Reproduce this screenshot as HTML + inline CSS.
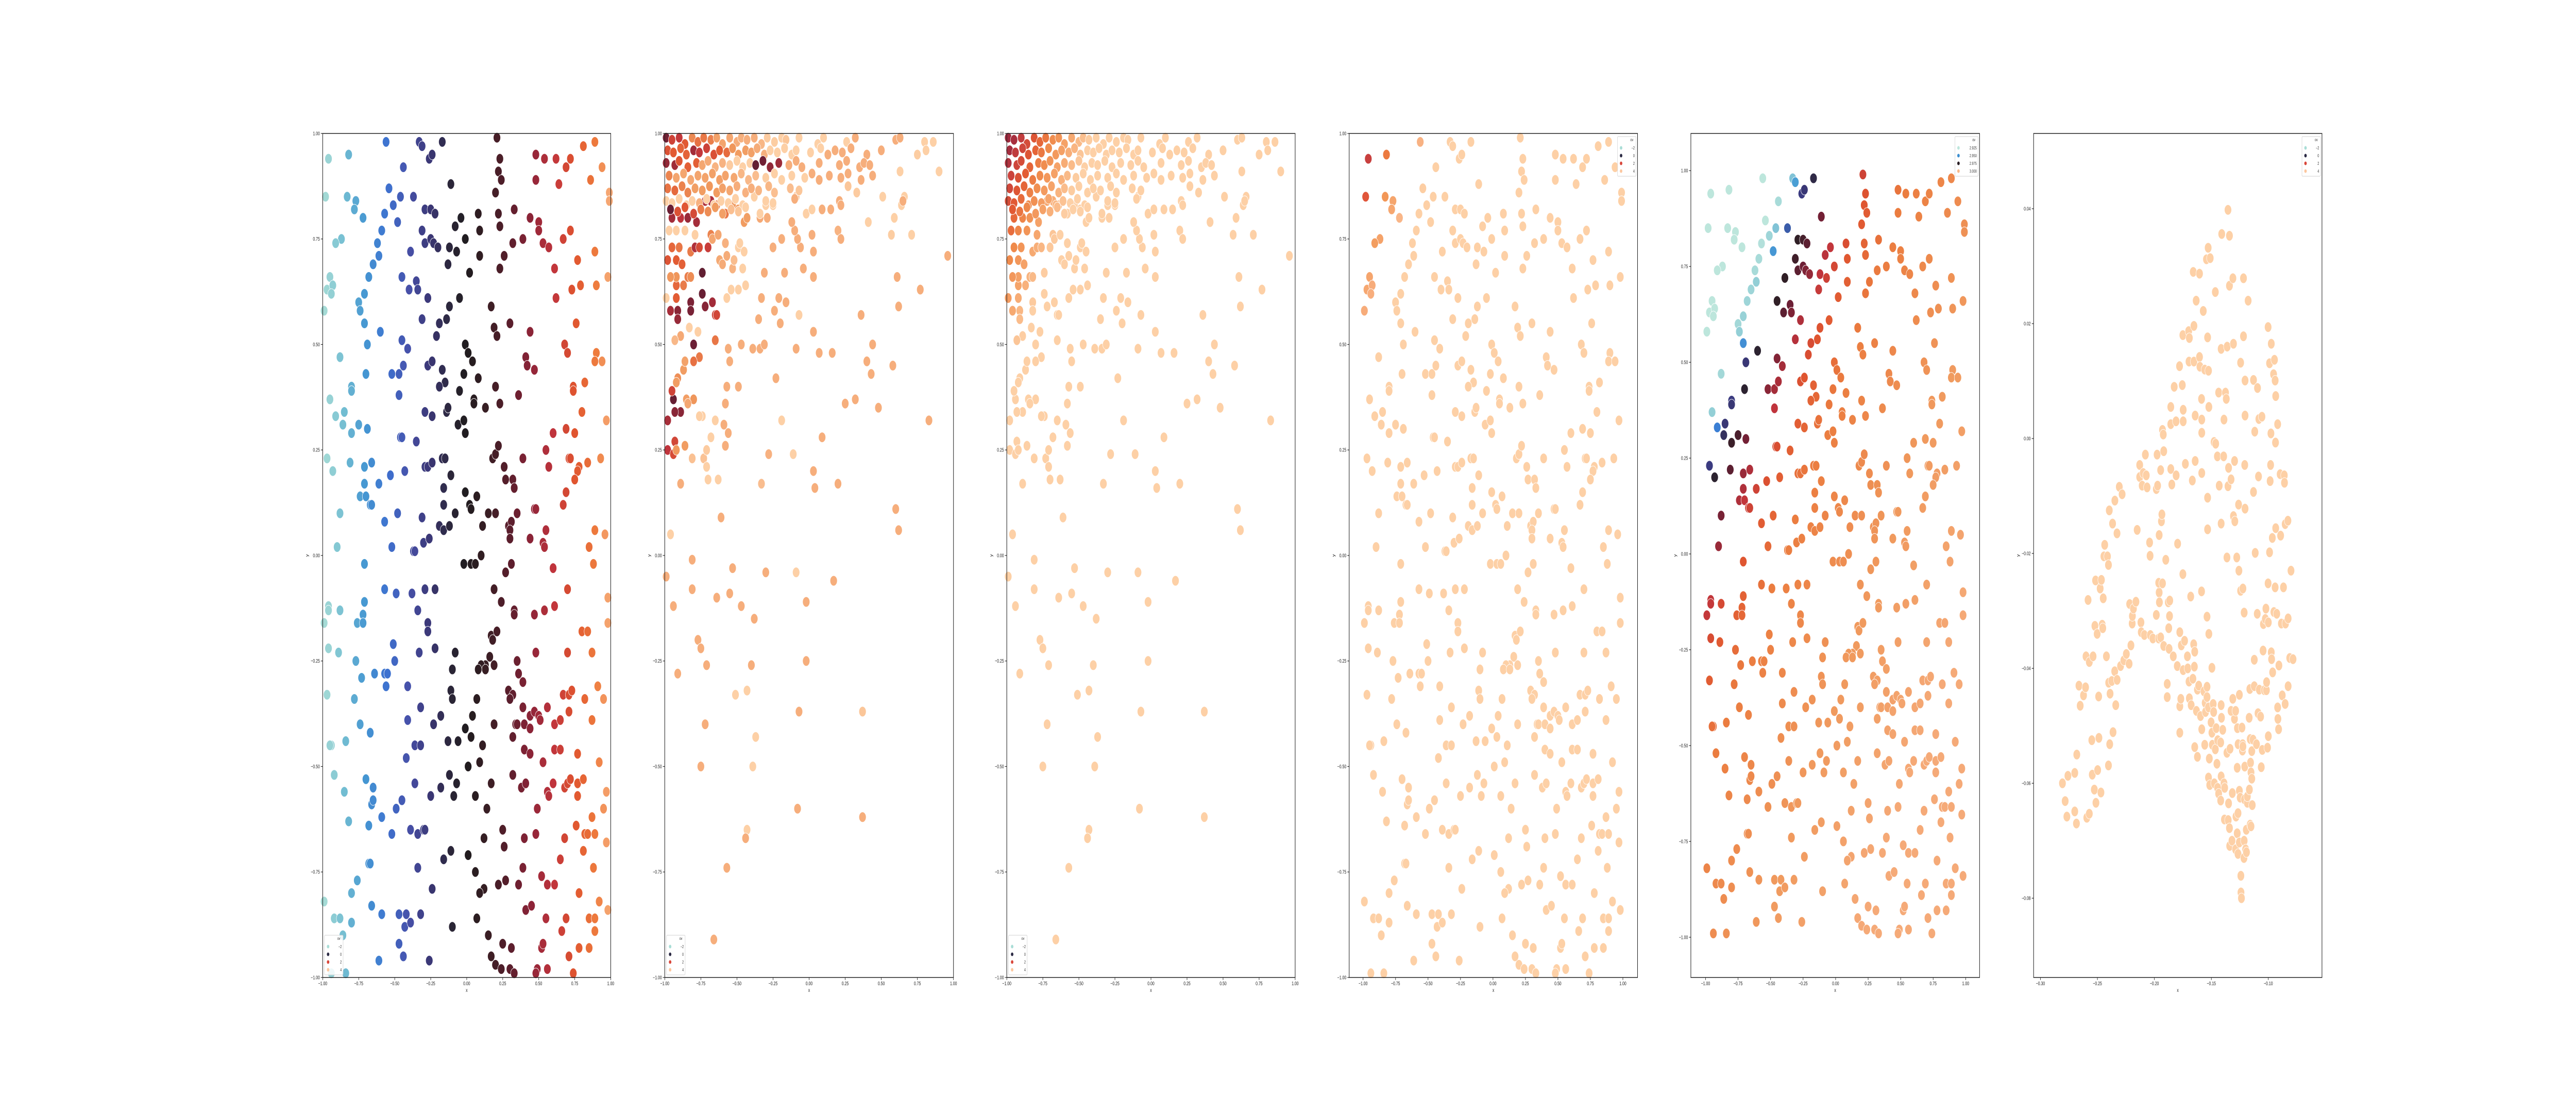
<!DOCTYPE html>
<html><head><meta charset="utf-8"><style>
html,body{margin:0;padding:0;background:#fff;width:100vw;height:100vh;overflow:hidden;}
svg{display:block;position:absolute;left:0;top:0;width:100vw;height:100vh;font-family:"Liberation Sans","DejaVu Sans",sans-serif;}
</style></head><body>
<svg id="chart" width="100%" height="100%" viewBox="0 0 7200 2160" preserveAspectRatio="none" xmlns="http://www.w3.org/2000/svg">
<rect x="0" y="0" width="7200" height="2160" fill="#ffffff"/>
</svg>
<script>
// ---------- DATA ----------
// shared uniform sample (panels 1,4,5)
const ptsX = [-.96,-.82,-.56,-.33,-.31,-.26,-.24,-.17,-.44,.21,.23,.22,.24,.48,.54,.62,.69,.72,.81,.89,.94,.48,.64,.86,.99,.99,-.98,-.83,-.77,-.78,-.54,-.37,-.46,-.51,-.57,-.11,-.29,-.25,-.22,.33,.2,.08,.22,.23,-.04,-.08,-.72,-.48,-.59,.44,.5,.5,.53,.57,.72,-.87,-.91,-.62,-.61,-.65,-.31,-.29,-.25,-.23,-.2,-.12,-.07,-.13,-.01,.09,.09,.32,.39,.26,.23,.67,.77,.89,.98,-.39,-.95,-.97,-.93,-.94,-.99,-.68,-.45,-.35,-.4,-.34,-.71,-.75,-.74,-.71,-.27,-.05,.02,.73,.79,.9,.61,.62,-.12,.17,.3,.76,-.14,-.31,-.19,.19,.21,.44,-.21,-.69,-.6,-.45,-.41,-.01,.01,.04,.41,.42,.47,.68,.7,.9,.89,.94,-.88,-.7,-.52,-.47,-.44,-.27,-.24,-.17,-.15,-.19,-.02,.08,-.8,-.8,-.95,-.47,-.05,.05,.05,.13,.2,.23,.36,.74,.74,.82,.8,-.91,-.85,-.86,-.8,-.75,-.69,-.29,-.24,-.14,-.13,-.06,-.02,-.01,.97,-.97,-.93,-.81,-.71,-.46,-.45,-.35,-.29,-.27,-.24,-.17,-.15,-.66,-.43,-.53,-.11,.18,.2,.22,.26,.27,.32,.33,.39,.55,.57,.6,.69,.75,.71,.72,.78,.77,.75,.84,.93,-.71,-.61,-.74,-.7,-.67,-.66,-.16,-.16,-.01,.02,.03,.07,-.88,-.48,-.57,-.31,-.08,-.19,-.16,-.12,.11,.15,.2,.29,.31,.3,.3,.35,.47,.48,.55,.44,.67,.69,.89,.96,-.9,-.52,-.37,-.36,-.3,-.26,-.26,-.71,-.57,-.49,-.38,-.29,-.22,-.02,.03,.06,.1,.27,.31,.53,.54,.6,.85,.88,.98,.98,-.96,-.96,-.99,-.88,-.71,-.72,-.76,-.72,-.34,-.27,-.27,.19,.24,.33,.33,.47,.54,.61,.7,-.96,-.89,-.77,-.73,-.64,-.57,-.55,-.56,-.51,-.5,-.33,-.22,-.08,-.1,.17,.18,.21,.16,.13,.1,.08,.13,.19,.35,.36,.39,.48,.7,.8,.84,.87,-.97,-.78,-.74,-.67,-.41,-.32,-.41,-.18,-.23,-.11,-.1,.07,.04,-.01,.03,.11,.19,.29,.32,.3,.34,.35,.4,.39,.44,.44,.47,.5,.51,.56,.61,.65,.32,.67,.71,.73,.71,.82,.91,.95,.87,-.94,-.95,-.84,-.92,-.36,-.32,-.42,-.13,-.06,.01,.09,.4,.44,.61,.65,.77,.92,.53,-.85,-.7,-.65,-.66,-.65,-.59,-.82,-.45,-.49,-.36,-.52,-.25,-.18,-.12,-.07,-.09,.06,.17,.14,.32,.38,.41,.49,.56,.57,.6,.68,.7,.72,.77,.81,.77,.97,.95,-.68,-.67,-.68,-.39,-.34,-.3,-.29,-.34,-.24,-.16,-.11,.12,.01,.06,.25,.26,.4,.48,.68,.65,.76,.82,.84,.89,.87,.81,.97,.88,-.76,-.8,-.99,-.8,-.92,-.88,-.86,-.66,-.59,-.47,-.42,-.43,-.39,-.47,-.61,-.44,-.32,-.26,-.1,.07,.12,.09,.15,.17,.2,.24,.22,.27,.36,.39,.25,.31,.3,.33,.41,.45,.52,.56,.61,.52,.53,.49,.48,.56,.55,.66,.69,.71,.78,.85,.85,.89,.89,.92,.98,.78,.74,-.94,-.84];
const ptsY = [.94,.95,.98,.98,.97,.94,.95,.98,.92,.99,.94,.91,.89,.95,.94,.94,.92,.94,.97,.98,.92,.89,.88,.89,.86,.84,.85,.85,.84,.82,.87,.85,.85,.83,.81,.88,.82,.82,.81,.82,.86,.81,.81,.78,.80,.78,.80,.79,.77,.80,.79,.77,.74,.73,.77,.75,.74,.74,.71,.69,.77,.74,.75,.74,.73,.73,.72,.69,.75,.77,.71,.74,.75,.71,.68,.75,.70,.72,.66,.72,.66,.63,.64,.62,.58,.66,.66,.65,.63,.63,.62,.60,.58,.55,.61,.61,.67,.63,.64,.64,.68,.61,.59,.59,.55,.55,.56,.56,.55,.54,.52,.53,.52,.50,.53,.51,.49,.50,.48,.46,.47,.45,.44,.50,.48,.48,.46,.46,.47,.43,.43,.43,.45,.45,.46,.44,.41,.40,.43,.42,.40,.39,.37,.38,.39,.37,.36,.35,.40,.36,.38,.40,.39,.41,.34,.33,.34,.31,.29,.31,.30,.34,.33,.34,.35,.31,.32,.29,.32,.23,.20,.22,.21,.28,.28,.27,.21,.21,.22,.23,.23,.22,.20,.19,.19,.23,.24,.26,.21,.18,.18,.16,.23,.25,.21,.29,.30,.29,.23,.23,.21,.20,.18,.22,.23,.17,.17,.14,.14,.12,.12,.16,.12,.15,.12,.11,.14,.10,.10,.08,.09,.10,.07,.06,.07,.07,.10,.10,.07,.08,.06,.04,.10,.11,.11,.06,.04,.12,.15,.06,.05,.02,.02,.01,.01,.03,.04,.04,-.02,-.08,-.09,-.09,-.08,-.08,-.02,-.02,-.02,0,-.04,-.02,.03,.02,-.03,.02,-.02,-.10,-.16,-.12,-.13,-.16,-.13,-.11,-.14,-.16,-.16,-.13,-.16,-.18,-.08,-.11,-.13,-.14,-.14,-.13,-.12,-.08,-.22,-.23,-.25,-.29,-.28,-.28,-.28,-.31,-.21,-.25,-.23,-.22,-.23,-.27,-.19,-.20,-.18,-.24,-.26,-.26,-.27,-.27,-.26,-.25,-.28,-.30,-.23,-.23,-.18,-.18,-.23,-.33,-.34,-.40,-.42,-.31,-.36,-.39,-.38,-.40,-.32,-.34,-.34,-.38,-.41,-.43,-.45,-.40,-.32,-.33,-.34,-.40,-.40,-.40,-.36,-.41,-.38,-.37,-.38,-.39,-.36,-.40,-.39,-.43,-.33,-.33,-.32,-.37,-.34,-.31,-.34,-.39,-.45,-.45,-.44,-.52,-.45,-.45,-.48,-.44,-.44,-.50,-.49,-.46,-.47,-.46,-.46,-.47,-.49,-.49,-.56,-.53,-.55,-.59,-.58,-.62,-.63,-.58,-.60,-.54,-.66,-.57,-.55,-.52,-.54,-.57,-.57,-.54,-.60,-.52,-.55,-.54,-.60,-.56,-.57,-.54,-.55,-.54,-.53,-.54,-.53,-.57,-.56,-.60,-.73,-.73,-.64,-.65,-.66,-.65,-.65,-.74,-.79,-.72,-.70,-.67,-.71,-.75,-.65,-.69,-.67,-.66,-.67,-.72,-.64,-.66,-.66,-.66,-.62,-.70,-.68,-.74,-.77,-.80,-.82,-.87,-.86,-.86,-.90,-.83,-.85,-.85,-.85,-.88,-.87,-.92,-.96,-.95,-.85,-.96,-.88,-.86,-.79,-.80,-.90,-.95,-.97,-.98,-.78,-.77,-.78,-.74,-.92,-.93,-.98,-.99,-.84,-.83,-.76,-.78,-.78,-.93,-.92,-.98,-.99,-.98,-.86,-.89,-.86,-.95,-.93,-.93,-.86,-.86,-.89,-.82,-.84,-.80,-.99,-.99,-.99];

// skewed sample (panels 2,3)
const skewX = [.96,.77,.83,.48,.44,.40,.43,.58,.61,.62,.36,.32,.25,.57,.71,.51,.66,.64,.59,.63,.90,.75,.80,.81,.86,.41,.60,.62,.09,.20,.03,.04,.16,.07,.03,-.09,.09,.15,.21,.20,.22,.02,.03,.03,-.04,-.06,-.08,-.10,-.12,-.09,-.02,.02,-.07,-.11,-.19,-.23,-.16,-.20,-.21,-.24,-.17,-.19,-.25,-.31,-.33,-.35,-.34,-.31,-.39,-.47,-.49,-.28,-.33,-.29,-.34,-.25,-.30,-.38,
-.96,-.99,-.94,-.81,-.81,-.91,-.77,-.75,-.71,-.72,-.75,-.61,-.53,-.55,-.64,-.47,-.38,-.30,-.40,-.43,-.51,-.37,-.39,-.43,-.44,-.57,-.66,-.09,-.02,-.02,-.07,-.08,.17,.37,.37,
-.98,-.98,-.93,-.94,-.92,-.89,-.86,-.81,-.73,-.71,-.71,-.70,-.68,-.65,-.63,-.59,-.58,-.56,-.58,-.57,-.55,-.56,-.65,-.76,-.80,-.80,-.85,-.89,-.93,-.94,-.95,-.91,-.92,-.87,-.86,-.84,-.89,-.93,-.77,-.74,-.76,-.83,-.80,-.82,-.82,-.91,-.91,-.96,-.92,-.92,-.87,-.84,-.82,-.92,-.96,-.99,-.74,-.74,-.72,-.67,-.65,-.64,
-.98,-.92,-.88,-.95,-.90,-.82,-.79,-.76,-.70,-.68,-.67,-.63,-.62,-.60,-.57,-.58,-.53,-.52,-.49,-.48,-.46,-.45,-.49,-.54,-.57,-.44,
-.97,-.92,-.86,-.79,-.95,-.89,-.84,-.78,-.72,-.68,-.64,-.58,-.53,-.49,-.45,-.43,
-.99,-.95,-.90,-.86,-.81,-.77,-.73,-.68,-.64,-.60,-.55,-.50,-.47,-.43,-.38,-.33,-.29,-.24,-.19,-.16,-.07,.06,.10,.26,.32,.60,.63,
-.98,-.94,-.89,-.85,-.80,-.76,-.71,-.66,-.62,-.57,-.53,-.49,-.44,-.40,-.36,-.31,-.27,-.22,-.17,-.12,-.09,.01,.08,.13,.18,.23,.29,.40,.50,
-.99,-.93,-.90,-.84,-.78,-.74,-.70,-.65,-.60,-.55,-.50,-.46,-.41,-.37,-.32,-.27,-.21,-.14,-.09,-.05,.07,.21,.26,.35,.38,.42,
-.97,-.92,-.87,-.82,-.77,-.72,-.67,-.62,-.58,-.52,-.47,-.42,-.37,-.30,-.24,-.19,-.12,-.03,.02,.07,.14,.22,.27,.36,.44,
-.98,-.93,-.88,-.84,-.79,-.74,-.69,-.64,-.60,-.55,-.50,-.44,-.40,-.35,-.28,-.24,-.13,-.07,.27,.33,
-.99,-.95,-.90,-.85,-.81,-.76,-.71,-.66,-.61,-.56,-.51,-.46,-.30,-.25,-.10,.22,.65,
-.96,-.91,-.86,-.80,-.75,-.70,-.65,-.60,-.54,-.49,-.44,-.34];
const skewY = [.71,.63,.32,.35,.50,.46,.43,.45,.66,.59,.57,.37,.36,.76,.76,.85,.85,.83,.80,.91,.91,.95,.98,.96,.98,.79,.11,.06,.28,.17,.20,.16,.48,.48,.53,.49,.82,.82,.84,.77,.75,.76,.72,.66,.68,.73,.75,.77,.79,.85,.81,.82,.57,.24,.32,.42,.60,.55,.61,.58,.67,.75,.73,.67,.61,.56,.49,.50,.49,.50,.40,.24,.17,.80,.80,.83,.83,.85,
.05,-.05,-.12,-.01,-.08,-.28,-.20,-.22,-.26,-.40,-.50,.09,-.03,-.09,-.10,-.12,-.15,-.04,-.26,-.32,-.33,-.43,-.50,-.65,-.67,-.74,-.91,-.04,-.11,-.25,-.37,-.60,-.06,-.37,-.62,
.32,.25,.27,.24,.25,.17,.26,.23,.23,.25,.21,.18,.28,.32,.18,.31,.26,.29,.36,.40,.46,.49,.51,.47,.46,.37,.37,.34,.34,.37,.39,.42,.41,.44,.46,.36,.52,.51,.53,.33,.33,.54,.50,.60,.58,.58,.56,.58,.61,.64,.64,.66,.66,.66,.66,.61,.67,.62,.59,.60,.57,.57,
.70,.70,.69,.73,.73,.72,.73,.73,.73,.76,.75,.76,.70,.69,.71,.74,.68,.70,.73,.74,.68,.72,.63,.63,.61,.64,
.77,.77,.77,.76,.80,.80,.80,.79,.84,.84,.83,.81,.83,.82,.79,.80,
.99,.985,.99,.975,.99,.98,.99,.985,.99,.975,.99,.98,.99,.985,.99,.975,.99,.98,.99,.985,.99,.975,.99,.98,.99,.985,.99,
.96,.955,.965,.95,.96,.955,.965,.95,.96,.955,.965,.95,.96,.955,.965,.95,.96,.955,.965,.95,.96,.955,.965,.95,.96,.955,.965,.95,.96,
.93,.925,.935,.92,.93,.925,.935,.92,.93,.925,.935,.92,.93,.925,.935,.92,.93,.925,.935,.92,.93,.925,.935,.92,.93,.925,
.90,.895,.905,.89,.90,.895,.905,.89,.90,.895,.905,.89,.90,.895,.905,.89,.90,.895,.905,.89,.90,.895,.905,.89,.90,
.87,.865,.875,.86,.87,.865,.875,.86,.87,.865,.875,.86,.87,.865,.875,.86,.87,.865,.875,.86,
.84,.835,.845,.83,.84,.835,.845,.83,.84,.835,.845,.83,.84,.835,.845,.83,.84,
.82,.815,.825,.81,.82,.815,.825,.81,.82,.815,.825,.81];

// panel 6 projected sample
const projX = [-.2807,-.2783,-.2768,-.2759,-.2699,-.2699,-.2684,-.2681,-.2662,-.2651,-.2622,-.2604,-.2600,-.2593,-.2571,-.2571,-.2582,-.2549,-.2545,-.2538,-.2527,-.2522,-.2516,-.2513,-.2502,-.2498,-.2489,-.2487,-.2476,-.2465,-.2469,-.2458,-.2453,-.2449,-.2443,-.2436,-.2421,-.2412,-.2403,-.2396,-.2401,-.2403,-.2392,-.2389,-.2374,-.2367,-.2363,-.2348,-.2347,-.2339,-.2327,-.2328,-.2297,-.2308,-.2283,-.2268,-.2246,-.2222,-.2206,-.2217,-.2195,-.2193,-.2184,-.2162,-.2151,-.2129,-.2118,-.2115,-.2129,-.2107,-.2098,-.2088,-.2079,-.2071,-.2064,-.2042,-.2038,-.2035,-.2013,-.1983,-.1976,-.1983,-.1972,-.1962,-.1958,-.1958,-.1962,-.1956,-.1945,-.1938,-.1934,-.1929,-.1945,-.1918,-.1918,-.1929,-.1922,-.1900,-.1887,-.1887,-.1878,-.1874,-.1871,-.1865,-.1867,-.1856,-.1856,-.1856,-.1847,-.1834,-.1826,-.1809,-.1810,-.1796,-.1779,-.1777,-.1777,-.1799,-.1777,-.1768,-.1763,-.1755,-.1750,-.1750,-.1747,-.1747,-.1747,-.1735,-.1728,-.1710,-.1707,-.1699,-.1696,-.1696,-.1693,-.1693,-.1681,-.1677,-.1667,-.1662,-.1659,-.1653,-.1653,-.1649,-.1646,-.1642,-.1642,-.1655,-.1646,-.1633,-.1631,-.1622,-.1622,-.1611,-.1604,-.1604,-.1600,-.1595,-.1586,-.1584,-.1586,-.1584,-.1584,-.1584,-.1571,-.1565,-.1558,-.1558,-.1554,-.1551,-.1543,-.1538,-.1538,-.1538,-.1533,-.1533,-.1533,-.1528,-.1525,-.1525,-.1525,-.1522,-.1522,-.1518,-.1514,-.1510,-.1502,-.1495,-.1495,-.1491,-.1484,-.1480,-.1476,-.1474,-.1465,-.1465,-.1462,-.1457,-.1451,-.1447,-.1445,-.1444,-.1436,-.1436,-.1431,-.1418,-.1418,-.1414,-.1414,-.1414,-.1411,-.1409,-.1400,-.1392,-.1389,-.1389,-.1385,-.1383,-.1376,-.1369,-.1363,-.1363,-.1361,-.1354,-.1354,-.1352,-.1349,-.1349,-.1341,-.1341,-.1341,-.1339,-.1336,-.1327,-.1319,-.1316,-.1311,-.1306,-.1306,-.1297,-.1296,-.1294,-.1287,-.1284,-.1277,-.1273,-.1273,-.1271,-.1266,-.1266,-.1265,-.1261,-.1258,-.1254,-.1254,-.1254,-.1247,-.1243,-.1243,-.1241,-.1240,-.1236,-.1231,-.1227,-.1225,-.1223,-.1223,-.1218,-.1218,-.1214,-.1212,-.1212,-.1209,-.1207,-.1207,-.1204,-.1204,-.1204,-.1199,-.1193,-.1192,-.1184,-.1184,-.1177,-.1168,-.1166,-.1162,-.1159,-.1159,-.1156,-.1152,-.1152,-.1145,-.1145,-.1141,-.1134,-.1130,-.1130,-.1123,-.1123,-.1115,-.1119,-.1104,-.1097,-.1095,-.1090,-.1086,-.1083,-.1079,-.1068,-.1062,-.1056,-.1053,-.1046,-.1043,-.1035,-.1026,-.1021,-.1017,-.1015,-.1007,-.1002,-.1000,-.0989,-.0989,-.0984,-.1002,-.1000,-.0980,-.0977,-.0974,-.0974,-.0971,-.0965,-.0962,-.0954,-.0951,-.0946,-.0940,-.0940,-.0937,-.0935,-.0935,-.0926,-.0918,-.0918,-.0916,-.0910,-.0907,-.0896,-.0892,-.0885,-.0878,-.0867,-.0860,-.0858,-.0852,-.0852,-.0849,-.0828,-.0826,-.0826,-.0812,-.0801,-.0783,-.1414,-.1327,-.1312,-.1287];
const projY = [-.0600,-.0631,-.0658,-.0587,-.0582,-.0649,-.0670,-.0550,-.0430,-.0465,-.0447,-.0433,-.0379,-.0660,-.0653,-.0389,-.0281,-.0525,-.0585,-.0379,-.0611,-.0326,-.0247,-.0634,-.0340,-.0577,-.0449,-.0521,-.0261,-.0246,-.0616,-.0324,-.0330,-.0278,-.0205,-.0185,-.0379,-.0205,-.0220,-.0125,-.0425,-.0569,-.0532,-.0444,-.0422,-.0148,-.0511,-.0405,-.0108,-.0464,-.0420,-.0165,-.0396,-.0084,-.0097,-.0386,-.0375,-.0392,-.0360,-.0288,-.0322,-.0309,-.0296,-.0284,-.0159,-.0046,-.0320,-.0337,-.0067,-.0082,-.0060,-.0342,-.0028,-.0064,-.0085,-.0181,-.0204,-.0342,-.0348,-.0307,-.0028,-.0088,-.0082,-.0348,-.0168,-.0268,-.0251,-.0285,-.0055,-.0144,-.0132,-.0252,-.0346,-.0361,-.0022,.0015,.0007,-.0211,-.0450,-.0427,-.0285,-.0330,-.0366,-.0282,-.0309,.0025,.0055,-.0053,-.0080,-.0379,.0090,-.0064,.0030,-.0183,.0126,-.0512,-.0466,-.0396,-.0337,-.0453,-.0360,.0093,.0180,-.0236,.0050,.0030,-.0403,-.0352,-.0044,-.0379,-.0400,.0187,.0134,-.0423,-.0452,.0175,-.0275,-.0464,-.0073,-.0418,.0290,.0196,.0134,-.0397,-.0537,.0040,-.0039,-.0358,-.0371,.0240,-.0474,-.0554,-.0437,-.0430,.0142,.0287,.0125,-.0483,.0069,-.0506,-.0266,.0010,.0033,-.0060,.0222,-.0440,-.0533,.0120,-.0460,-.0476,.0312,-.0432,-.0450,-.0310,-.0103,-.0158,.0176,.0332,.0118,-.0468,-.0590,-.0340,.0055,-.0557,-.0603,.0314,-.0494,-.0512,-.0399,-.0533,-.0462,-.0476,-.0006,-.0600,-.0541,.0255,-.0009,-.0504,-.0566,-.0031,-.0608,-.0525,-.0618,.0080,-.0082,-.0630,-.0529,-.0588,.0156,-.0148,-.0486,.0356,-.0507,-.0031,.0033,-.0600,-.0663,-.0608,.0080,.0069,-.0207,-.0547,.0160,.0398,-.0083,-.0664,-.0051,-.0635,.0353,.0266,-.0678,-.0709,-.0540,-.0071,-.0700,-.0617,.0279,.0165,-.0135,-.0488,-.0039,-.0144,-.0715,-.0658,-.0207,-.0573,-.0687,-.0504,-.0652,-.0723,-.0532,-.0115,-.0230,-.0446,-.0613,-.0703,-.0625,-.0265,.0132,-.0761,-.0790,-.0800,-.0503,-.0543,-.0532,-.0261,-.0536,.0279,.0178,-.0730,-.0700,-.0303,-.0628,-.0571,-.0046,-.0122,.0101,.0040,-.0715,-.0681,-.0720,-.0634,-.0623,.0240,-.0486,-.0611,-.0436,-.0523,-.0672,-.0564,-.0581,-.0675,-.0544,-.0592,-.0638,-.0524,.0102,-.0093,-.0385,-.0431,-.0199,.0012,-.0532,-.0305,.0088,-.0478,-.0066,.0034,-.0437,-.0484,-.0572,.0038,-.0542,-.0369,-.0323,-.0438,-.0314,-.0296,-.0438,-.0424,-.0538,.0194,-.0518,.0131,-.0198,-.0074,-.0252,-.0320,-.0046,.0009,.0165,-.0372,-.0384,-.0173,-.0407,.0112,-.0302,.0137,.0101,-.0259,-.0007,.0074,-.0156,-.0305,.0025,-.0468,-.0488,-.0506,-.0395,-.0062,-.0169,-.0322,-.0447,-.0259,-.0064,-.0077,-.0462,-.0149,-.0322,-.0143,-.0431,-.0313,-.0382,-.0230,-.0384,-.0464,-.0474,-.0453,-.0474];

const legendLabelsA = ["\u22122","0","2","4"];
const legendLabelsB = ["2.925","2.950","2.975","3.000"];
const xTicks11 = [-1,-0.75,-0.5,-0.25,0,0.25,0.5,0.75,1];
const yTicks11 = [-1,-0.75,-0.5,-0.25,0,0.25,0.5,0.75,1];
const xTicks6 = [-0.30,-0.25,-0.20,-0.15,-0.10];
const yTicks6 = [-0.08,-0.06,-0.04,-0.02,0,0.02,0.04];

// ---------- RENDER ----------
const NS = "http://www.w3.org/2000/svg";
const svg = document.getElementById("chart");
function mk(tag, attrs, parent){const e=document.createElementNS(NS,tag);for(const k in attrs)e.setAttribute(k,attrs[k]);(parent||svg).appendChild(e);return e;}
function hex(h){return [parseInt(h.slice(1,3),16),parseInt(h.slice(3,5),16),parseInt(h.slice(5,7),16)];}
function ramp(stops, t){
  if(t<=stops[0][0]) return stops[0][1];
  for(let i=1;i<stops.length;i++){ if(t<=stops[i][0]){const a=stops[i-1],b=stops[i];const f=(t-a[0])/(b[0]-a[0]);const A=hex(a[1]),B=hex(b[1]);return "rgb("+A.map((v,j)=>Math.round(v+(B[j]-v)*f)).join(",")+")";}}
  return stops[stops.length-1][1];
}
const iceStops=[[-1,"#a9ddd6"],[-0.85,"#72bdd2"],[-0.7,"#4596d2"],[-0.55,"#3e72d0"],[-0.4,"#4750a8"],[-0.25,"#3a3673"],[-0.1,"#2a2535"],[0,"#201c1f"],[0.15,"#3a1e24"],[0.3,"#5a1e2c"],[0.45,"#8e2438"],[0.6,"#c0343c"],[0.75,"#e0552f"],[0.9,"#ee7c3e"],[1,"#f6ab78"]];
const p5Stops=[[0.6,"#bde6dc"],[0.68,"#93cfd6"],[0.72,"#4a9fd4"],[0.76,"#3b7fd4"],[0.8,"#3b3b80"],[0.88,"#2a1f25"],[1.0,"#6d1f35"],[1.15,"#c0343c"],[1.3,"#df5530"],[1.6,"#eb7d40"],[2.4,"#f09a5e"],[3.2,"#f5aa78"]];
const p4Stops=[[0.1,"#c8403e"],[0.17,"#e0553a"],[0.24,"#ee8040"],[0.33,"#f29a5a"],[0.45,"#f8b080"],[0.6,"#fdd0a6"]];
const p3Stops=[[0.05,"#9e2a3e"],[0.12,"#c8403e"],[0.22,"#e25a33"],[0.32,"#ef8a4b"],[0.45,"#f6a66d"],[0.6,"#fdd0a6"]];
const p2Stops=[[-1,"#2a1f25"],[-0.6,"#6d1f35"],[-0.3,"#c0343c"],[0,"#e25a33"],[0.3,"#f09a5e"],[0.6,"#f6ae7c"],[0.8,"#fdd0a6"]];

function panel(cfg){
  const g=mk("g",{});
  
  
  const sx=v=>cfg.L+(v-cfg.xmin)/(cfg.xmax-cfg.xmin)*(cfg.R-cfg.L);
  const sy=v=>cfg.B-(v-cfg.ymin)/(cfg.ymax-cfg.ymin)*(cfg.B-cfg.T);
  const pts=mk("g",{},g);
  
  
  for(let i=0;i<cfg.xs.length;i++){
    const c=mk("circle",{cx:sx(cfg.xs[i]).toFixed(1),cy:sy(cfg.ys[i]).toFixed(1),r:cfg.r||10,fill:cfg.color(i),stroke:"#ffffff","stroke-width":1},pts);
    
    
  }
  const fr=mk("rect",{x:cfg.L,y:cfg.T,width:cfg.R-cfg.L,height:cfg.B-cfg.T,fill:"none",stroke:"#222","stroke-width":1.5},g);
  
  
  cfg.xt.forEach(v=>{const x=sx(v);
    mk("line",{x1:x,x2:x,y1:cfg.B,y2:cfg.B+5,stroke:"#222","stroke-width":1.2},g);
    const t=mk("text",{x:x,y:cfg.B+15,"font-size":10,"text-anchor":"middle",fill:"#222"},g);
    t.textContent=(v<0?"\u2212":"")+Math.abs(v).toFixed(2);
    
    
  });
  cfg.yt.forEach(v=>{const y=sy(v);
    mk("line",{x1:cfg.L-5,x2:cfg.L,y1:y,y2:y,stroke:"#222","stroke-width":1.2},g);
    const t=mk("text",{x:cfg.L-8,y:y+3.5,"font-size":10,"text-anchor":"end",fill:"#222"},g);
    t.textContent=(v<0?"\u2212":"")+Math.abs(v).toFixed(2);
    
    
  });
  const xl=mk("text",{x:(cfg.L+cfg.R)/2,y:cfg.B+28,"font-size":10,"text-anchor":"middle",fill:"#222"},g);
  xl.textContent="x";
  
  
  const yl=mk("text",{x:cfg.L-40,y:(cfg.T+cfg.B)/2,"font-size":10,"text-anchor":"middle",fill:"#222",transform:"rotate(-90 "+(cfg.L-40)+" "+((cfg.T+cfg.B)/2)+")"},g);
  yl.textContent="y";
  
  
  const lg=mk("g",{},g);
  
  
  mk("rect",{x:cfg.lx,y:cfg.ly,width:cfg.lw,height:77,fill:"#ffffff","fill-opacity":0.85,stroke:"#d0d0d0","stroke-width":1,rx:2},lg);
  const tt=mk("text",{x:cfg.lx+cfg.lw-12,y:cfg.ly+9,"font-size":8,"text-anchor":"middle",fill:"#333"},lg);
  tt.textContent="ov";
  
  
  cfg.lab.forEach((s,k)=>{const yy=cfg.ly+22+k*15;
    const m=mk("circle",{cx:cfg.lx+10,cy:yy,r:3.5,fill:cfg.lc[k]},lg);
    
    
    const t=mk("text",{x:cfg.lx+cfg.lw-4,y:yy+3,"font-size":8,"text-anchor":"end",fill:"#333"},lg);
    t.textContent=s;
    
    
  });
}
const lcA=["#a9ddd6","#2b2a44","#d9463a","#fcc79f"];
const lcB=["#bde6dc","#3d8fd0","#2a1f25","#f8b98a"];
const T=259,B=1897;
const dist=(i,X,Y)=>(X[i]+1)+(1-Y[i]);

panel({name:"panel-1",L:902,R:1707,T,B,xmin:-1,xmax:1,ymin:-1,ymax:1,xs:ptsX,ys:ptsY,xt:xTicks11,yt:yTicks11,color:i=>ramp(iceStops,ptsX[i]),lx:907,ly:1815,lw:52,lab:legendLabelsA,lc:lcA});
panel({name:"panel-2",L:1858,R:2665,T,B,xmin:-1,xmax:1,ymin:-1,ymax:1,xs:skewX,ys:skewY,xt:xTicks11,yt:yTicks11,color:i=>{const d=dist(i,skewX,skewY);const o=ptsX[i%ptsX.length];return ramp(p2Stops,d>0.9?Math.max(o,0.3)+0.3:o+0.3);},lx:1863,ly:1815,lw:52,lab:legendLabelsA,lc:lcA});
panel({name:"panel-3",L:2814,R:3620,T,B,xmin:-1,xmax:1,ymin:-1,ymax:1,xs:skewX,ys:skewY,xt:xTicks11,yt:yTicks11,color:i=>ramp(p3Stops,dist(i,skewX,skewY)),lx:2819,ly:1815,lw:52,lab:legendLabelsA,lc:lcA});
panel({name:"panel-4",L:3771,R:4577,T,B,xmin:-1.107,xmax:1.113,ymin:-1,ymax:1,xs:ptsX,ys:ptsY,xt:xTicks11,yt:yTicks11,color:i=>ramp(p4Stops,dist(i,ptsX,ptsY)),lx:4521,ly:265,lw:52,lab:legendLabelsA,lc:lcA});
panel({name:"panel-5",L:4726,R:5533,T,B,xmin:-1.113,xmax:1.107,ymin:-1.105,ymax:1.097,xs:ptsX,ys:ptsY,xt:xTicks11,yt:yTicks11,color:i=>ramp(p5Stops,dist(i,ptsX,ptsY)),lx:5464,ly:265,lw:65,lab:legendLabelsB,lc:lcB});
panel({name:"panel-6",L:5684,R:6490,T,B,xmin:-0.306,xmax:-0.0529,ymin:-0.0938,ymax:0.0531,xs:projX,ys:projY,xt:xTicks6,yt:yTicks6,color:i=>"#fdd0a6",lx:6434,ly:265,lw:52,lab:legendLabelsA,lc:lcA});
</script>
</body></html>
